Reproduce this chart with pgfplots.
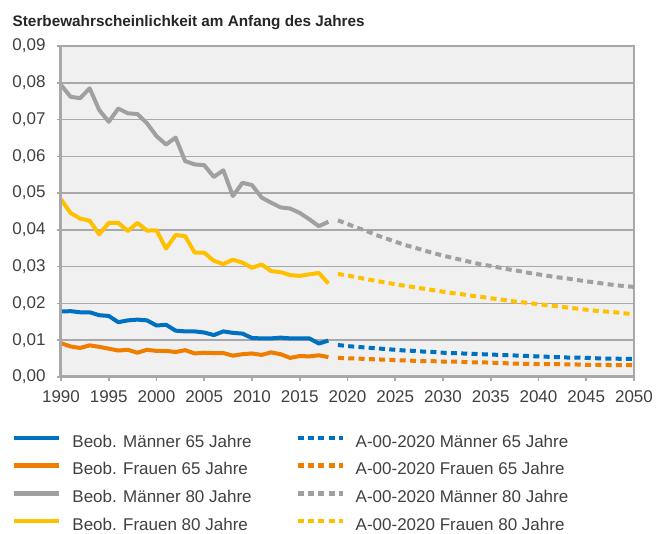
\documentclass[border=0pt]{standalone}
\usepackage{fontspec}
\setmainfont{Liberation Sans}
\usepackage{pgfplots}
\pgfplotsset{compat=1.18}
\definecolor{cblue}{HTML}{0070C0}
\definecolor{corange}{HTML}{EE7D00}
\definecolor{cgray}{HTML}{A0A0A0}
\definecolor{cyellow}{HTML}{FFC000}
\definecolor{bgc}{HTML}{F0F0F0}
\definecolor{gridc}{HTML}{A8A8A8}
\definecolor{txt}{HTML}{404040}
\begin{document}
\begin{tikzpicture}
\path[use as bounding box] (-61pt,-157pt) rectangle (607pt,377pt);
\node[anchor=base west, font=\fontsize{15.3}{18}\selectfont\bfseries, text=black!85, inner sep=0pt] at (-48.5pt,350.5pt) {Sterbewahrscheinlichkeit am Anfang des Jahres};
\begin{axis}[
  at={(0,0)}, anchor=south west,
  scale only axis, width=573pt, height=331pt,
  xmin=1990, xmax=2050, ymin=0, ymax=0.09,
  xtick={1990,1995,...,2050},
  ytick={0,0.01,0.02,0.03,0.04,0.05,0.06,0.07,0.08,0.09},
  scaled y ticks=false,
  axis background/.style={fill=bgc},
  axis line style={draw=gridc, line width=1.3pt},
  ymajorgrids, grid style={draw=gridc, line width=1.5pt},
  tick align=outside, major tick length=4pt,
  tick style={draw=gridc, line width=1.6pt},
  xtick pos=bottom, ytick pos=left,
  ticklabel style={font=\fontsize{17}{20}\selectfont, text=txt},
  /pgf/number format/assume math mode=true,
  xticklabel style={yshift=-6pt, /pgf/number format/fixed, /pgf/number format/precision=0, /pgf/number format/1000 sep={}},
  yticklabel style={xshift=-8pt, /pgf/number format/fixed, /pgf/number format/fixed zerofill, /pgf/number format/precision=2, /pgf/number format/use comma},
  every axis plot/.append style={line width=4pt, line join=round},
  legend columns=2,
  legend cell align=left,
  legend style={at={(0,0)}, anchor=north west, xshift=-49pt, yshift=-57.5pt,
    draw=none, fill=none, inner sep=0pt, font=\fontsize{17}{20}\selectfont, text=txt,
    nodes={inner sep=0pt, text height=12.5pt, text depth=4pt},
    row sep=11.2pt},
  legend image code/.code={\draw[#1, line width=4.5pt] (0pt,5pt) -- (45pt,5pt); \path (56pt,5pt);},
  after end axis/.code={\draw[gridc, line width=3pt] (rel axis cs:0,1) -- (rel axis cs:0,0) -- (rel axis cs:1,0);},
  clip=false,
]
% Beob. Maenner 65
\addplot[cblue] coordinates {(1990,0.0178)(1991,0.0179)(1992,0.0176)(1993,0.0176)(1994,0.0168)(1995,0.0166)(1996,0.0149)(1997,0.0154)(1998,0.0156)(1999,0.0154)(2000,0.0140)(2001,0.0142)(2002,0.0126)(2003,0.0124)(2004,0.0124)(2005,0.0121)(2006,0.0114)(2007,0.0124)(2008,0.0120)(2009,0.0118)(2010,0.0106)(2011,0.0105)(2012,0.0105)(2013,0.0107)(2014,0.0105)(2015,0.0105)(2016,0.0105)(2017,0.0091)(2018,0.0099)};
\addlegendentry{\makebox[223pt][l]{Beob. Männer 65 Jahre}}
\addplot[cblue, dash pattern=on 6pt off 4.3pt] coordinates {(2019,0.0087)(2020,0.0084)(2021,0.0082)(2022,0.0080)(2023,0.0078)(2024,0.0076)(2025,0.0074)(2026,0.0072)(2027,0.0071)(2028,0.0069)(2029,0.0068)(2030,0.0066)(2031,0.0065)(2032,0.0064)(2033,0.0063)(2034,0.0062)(2035,0.0061)(2036,0.0060)(2037,0.0059)(2038,0.0058)(2039,0.0057)(2040,0.0056)(2041,0.0055)(2042,0.0054)(2043,0.0053)(2044,0.0053)(2045,0.0052)(2046,0.0051)(2047,0.0050)(2048,0.0050)(2049,0.0049)(2050,0.0049)};
\addlegendentry{A-00-2020 Männer 65 Jahre}
% Beob. Frauen 65
\addplot[corange] coordinates {(1990,0.0092)(1991,0.0083)(1992,0.0079)(1993,0.0086)(1994,0.0082)(1995,0.0077)(1996,0.0072)(1997,0.0074)(1998,0.0066)(1999,0.0074)(2000,0.0071)(2001,0.0071)(2002,0.0068)(2003,0.0073)(2004,0.0064)(2005,0.0066)(2006,0.0065)(2007,0.0065)(2008,0.0058)(2009,0.0062)(2010,0.0064)(2011,0.0060)(2012,0.0067)(2013,0.0062)(2014,0.0052)(2015,0.0057)(2016,0.0056)(2017,0.0059)(2018,0.0054)};
\addlegendentry{\makebox[223pt][l]{Beob. Frauen 65 Jahre}}
\addplot[corange, dash pattern=on 6pt off 4.3pt] coordinates {(2019,0.0052)(2020,0.0051)(2021,0.0050)(2022,0.0049)(2023,0.0048)(2024,0.0047)(2025,0.0046)(2026,0.0045)(2027,0.0044)(2028,0.0043)(2029,0.0043)(2030,0.0042)(2031,0.0042)(2032,0.0041)(2033,0.0040)(2034,0.0040)(2035,0.0039)(2036,0.0038)(2037,0.0037)(2038,0.0036)(2039,0.0036)(2040,0.0035)(2041,0.0035)(2042,0.0035)(2043,0.0034)(2044,0.0034)(2045,0.0033)(2046,0.0033)(2047,0.0033)(2048,0.0032)(2049,0.0032)(2050,0.0032)};
\addlegendentry{A-00-2020 Frauen 65 Jahre}
% Beob. Maenner 80
\addplot[cgray] coordinates {(1990,0.0794)(1991,0.0762)(1992,0.0758)(1993,0.0785)(1994,0.0726)(1995,0.0694)(1996,0.0730)(1997,0.0717)(1998,0.0715)(1999,0.0690)(2000,0.0655)(2001,0.0632)(2002,0.0651)(2003,0.0587)(2004,0.0578)(2005,0.0576)(2006,0.0544)(2007,0.0562)(2008,0.0492)(2009,0.0528)(2010,0.0522)(2011,0.0488)(2012,0.0474)(2013,0.0461)(2014,0.0458)(2015,0.0446)(2016,0.0429)(2017,0.0410)(2018,0.0422)};
\addlegendentry{\makebox[223pt][l]{Beob. Männer 80 Jahre}}
\addplot[cgray, dash pattern=on 6pt off 4.3pt] coordinates {(2019,0.0426)(2020,0.0416)(2021,0.0406)(2022,0.0397)(2023,0.0386)(2024,0.0377)(2025,0.0368)(2026,0.0359)(2027,0.0352)(2028,0.0344)(2029,0.0337)(2030,0.0330)(2031,0.0324)(2032,0.0318)(2033,0.0312)(2034,0.0306)(2035,0.0302)(2036,0.0297)(2037,0.0292)(2038,0.0288)(2039,0.0283)(2040,0.0279)(2041,0.0275)(2042,0.0271)(2043,0.0268)(2044,0.0264)(2045,0.0260)(2046,0.0257)(2047,0.0253)(2048,0.0250)(2049,0.0247)(2050,0.0245)};
\addlegendentry{A-00-2020 Männer 80 Jahre}
% Beob. Frauen 80
\addplot[cyellow] coordinates {(1990,0.0483)(1991,0.0446)(1992,0.0431)(1993,0.0425)(1994,0.0388)(1995,0.0419)(1996,0.0419)(1997,0.0397)(1998,0.0419)(1999,0.0398)(2000,0.0399)(2001,0.0349)(2002,0.0386)(2003,0.0383)(2004,0.0338)(2005,0.0338)(2006,0.0316)(2007,0.0307)(2008,0.0319)(2009,0.0311)(2010,0.0297)(2011,0.0306)(2012,0.0288)(2013,0.0285)(2014,0.0277)(2015,0.0275)(2016,0.0279)(2017,0.0283)(2018,0.0254)};
\addlegendentry{\makebox[223pt][l]{Beob. Frauen 80 Jahre}}
\addplot[cyellow, dash pattern=on 6pt off 4.3pt] coordinates {(2019,0.0280)(2020,0.0276)(2021,0.0271)(2022,0.0266)(2023,0.0261)(2024,0.0257)(2025,0.0252)(2026,0.0248)(2027,0.0244)(2028,0.0240)(2029,0.0236)(2030,0.0232)(2031,0.0228)(2032,0.0225)(2033,0.0221)(2034,0.0218)(2035,0.0214)(2036,0.0211)(2037,0.0207)(2038,0.0204)(2039,0.0201)(2040,0.0198)(2041,0.0195)(2042,0.0192)(2043,0.0189)(2044,0.0186)(2045,0.0183)(2046,0.0180)(2047,0.0178)(2048,0.0176)(2049,0.0173)(2050,0.0171)};
\addlegendentry{A-00-2020 Frauen 80 Jahre}
\end{axis}
\end{tikzpicture}
\end{document}
